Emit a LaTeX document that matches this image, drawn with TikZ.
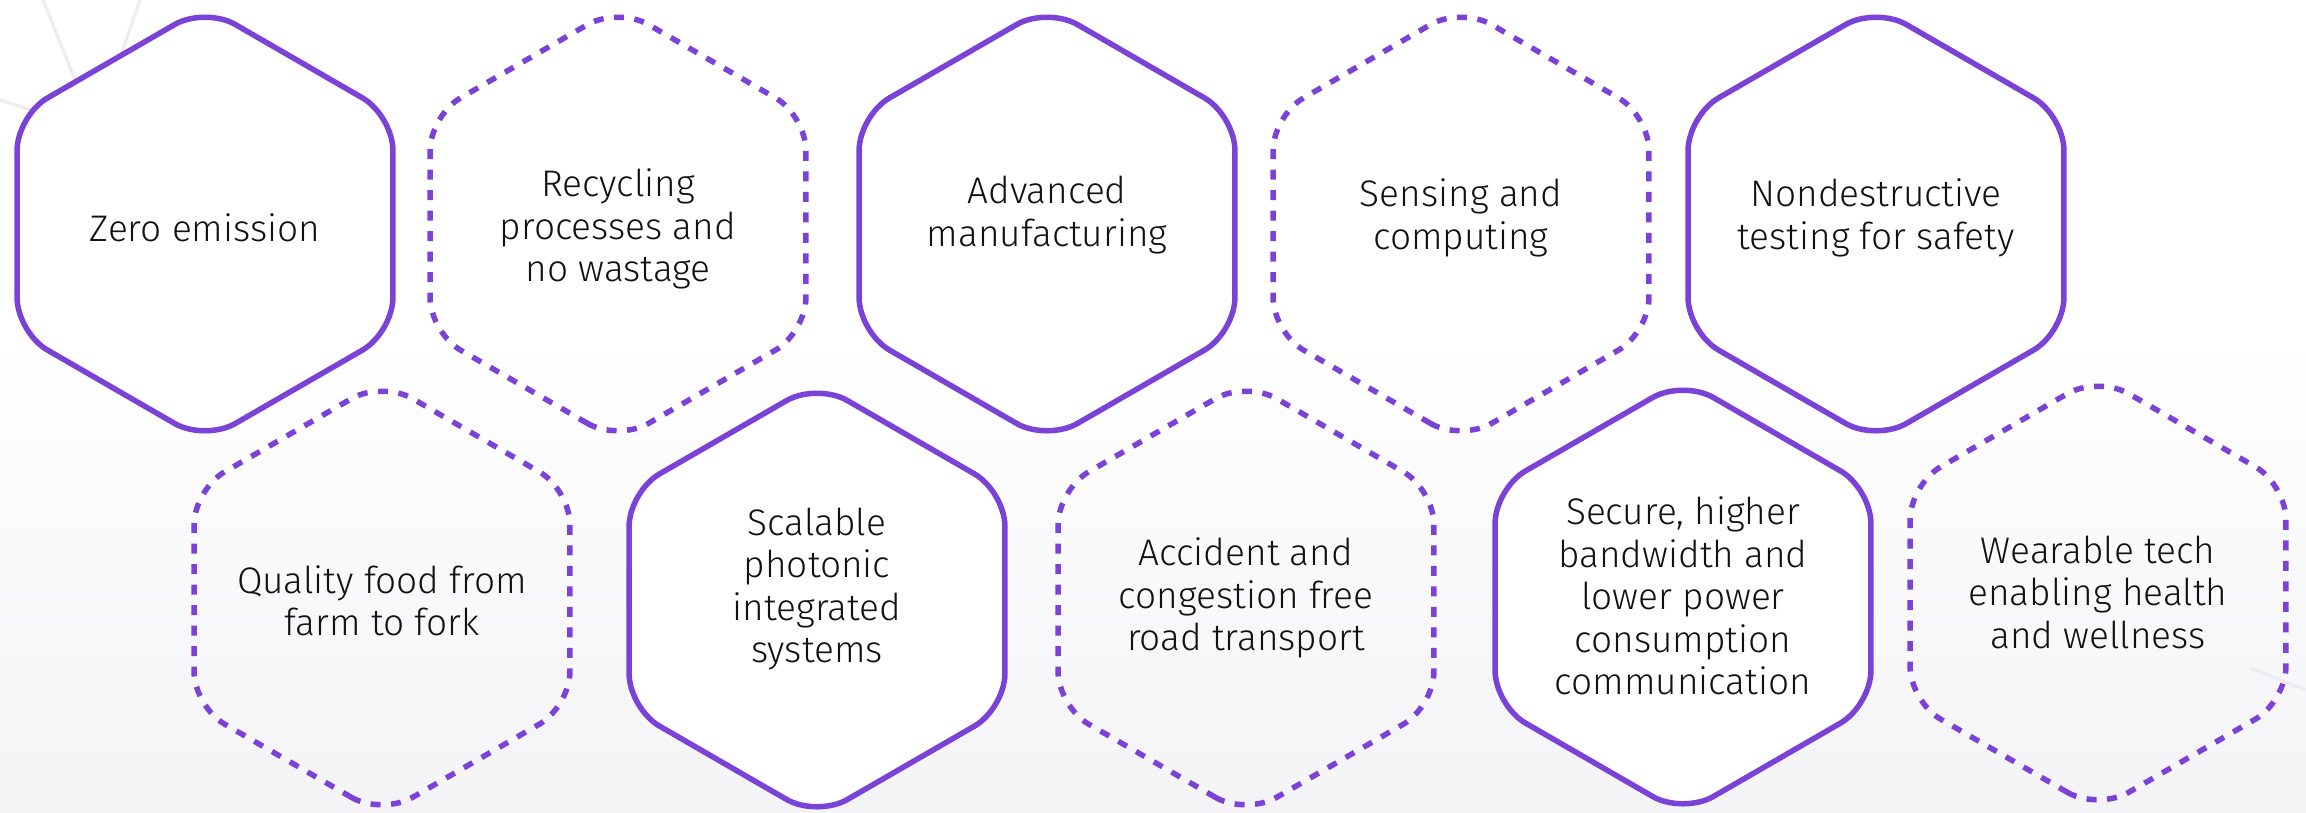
\documentclass[tikz,border=0pt]{standalone}
\usepackage{fontspec}
\IfFontExistsTF{Fira Sans Light}{\setmainfont{Fira Sans Light}}{\setmainfont{Fira Sans}}
\usetikzlibrary{calc}
\definecolor{hexpurple}{HTML}{7B42D8}
\definecolor{bggray}{HTML}{F4F4F7}
\definecolor{netgray}{HTML}{ECECF1}
\definecolor{txt}{HTML}{111111}
\tikzset{
  hexsolid/.style={draw=hexpurple, line width=5.5pt, rounded corners=35pt, fill=white, line join=round},
  hexdotted/.style={draw=hexpurple, line width=5.5pt, rounded corners=35pt, dash pattern=on 10pt off 10.5pt},
  hexlabel/.style={align=center, text=txt, font=\fontsize{37}{42.5}\selectfont, inner sep=0pt},
  netline/.style={draw=netgray, line width=3pt}
}
\newcommand{\hexshape}[2]{%
  \path[#1] (#2) ++(90:217) -- ++(210:217) -- ++(270:217) -- ++(330:217) -- ++(30:217) -- ++(90:217) -- cycle;}
\begin{document}
\begin{tikzpicture}[x=1pt,y=-1pt]
\useasboundingbox (0,0) rectangle (2306,812);
% background
\fill[white] (0,0) rectangle (2306,812);
\shade[top color=white, bottom color=bggray] (0,330) rectangle (2306,812);
% faint network lines
\coordinate (n1) at (43,0);
\coordinate (n2) at (140,0);
\coordinate (n3) at (0,100);
\coordinate (nh) at (95,130);
\draw[netline] (n1) -- (nh);
\draw[netline] (n2) -- (nh);
\draw[netline] (n3) -- (nh);
\coordinate (n4) at (2250,668);
\coordinate (n5) at (2306,690);
\draw[netline] (n4) -- (n5);
% hexagon centres
\coordinate (c1) at (205,224);
\coordinate (c2) at (618,224);
\coordinate (c3) at (1047,224);
\coordinate (c4) at (1461,224);
\coordinate (c5) at (1876,224);
\coordinate (c6) at (382,598);
\coordinate (c7) at (817,600);
\coordinate (c8) at (1246,598);
\coordinate (c9) at (1683,597);
\coordinate (c10) at (2098,593);
% hexagons
\hexshape{hexsolid}{c1}
\hexshape{hexdotted}{c2}
\hexshape{hexsolid}{c3}
\hexshape{hexdotted}{c4}
\hexshape{hexsolid}{c5}
\hexshape{hexdotted}{c6}
\hexshape{hexsolid}{c7}
\hexshape{hexdotted}{c8}
\hexshape{hexsolid}{c9}
\hexshape{hexdotted}{c10}
% labels
\node[hexlabel] (t1) at (205,228) {Zero emission};
\node[hexlabel] (t2) at (618,229) {Recycling\\processes and\\no wastage};
\node[hexlabel] (t3) at (1047,215) {Advanced\\manufacturing};
\node[hexlabel] (t4) at (1461,218) {Sensing and\\computing};
\node[hexlabel] (t5) at (1876,218) {Nondestructive\\testing for safety};
\node[hexlabel] (t6) at (382,601) {Quality food from\\farm to fork};
\node[hexlabel] (t7) at (817,589) {Scalable\\photonic\\integrated\\systems};
\node[hexlabel] (t8) at (1246,598) {Accident and\\congestion free\\road transport};
\node[hexlabel] (t9) at (1683,596) {Secure, higher\\bandwidth and\\lower power\\consumption\\communication};
\node[hexlabel] (t10) at (2098,592) {Wearable tech\\enabling health\\and wellness};
\end{tikzpicture}
\end{document}
